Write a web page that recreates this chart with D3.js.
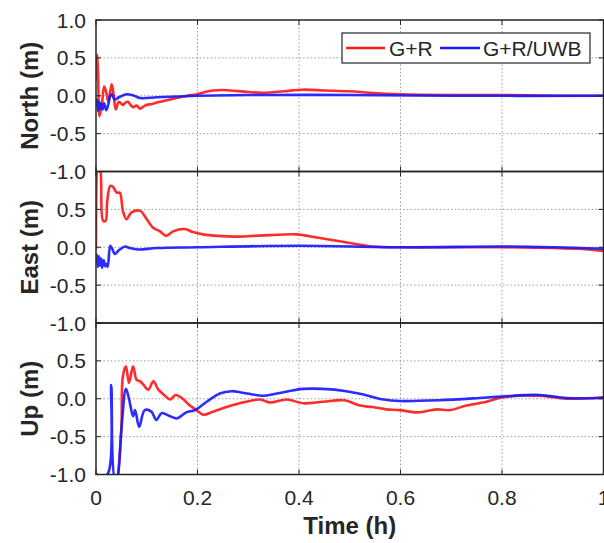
<!DOCTYPE html>
<html><head><meta charset="utf-8">
<script src="https://cdn.jsdelivr.net/npm/d3@7"></script>
<style>body{margin:0;background:#fff}svg{display:block}</style>
</head><body>
<script>
// ---- data (time in hours, error in metres) ----
const seriesNames = ["G+R", "G+R/UWB"];
const xTicks = [0, 0.2, 0.4, 0.6, 0.8, 1];
const xTickLabels = ["0", "0.2", "0.4", "0.6", "0.8", "1"];
const yTicks = [1, 0.5, 0, -0.5, -1];
const yTickLabels = ["1.0", "0.5", "0.0", "-0.5", "-1.0"];
const panelLabels = ["North (m)", "East (m)", "Up (m)"];

const northGR = [[0,0.2],[0.002,0.54],[0.004,0.3],[0.007,-0.27],[0.012,-0.09],[0.016,0.12],[0.02,0.05],[0.024,-0.07],[0.028,0.05],[0.031,0.15],[0.035,0.0],[0.039,-0.18],[0.045,-0.08],[0.053,-0.12],[0.058,-0.09],[0.063,-0.08],[0.068,-0.12],[0.073,-0.15],[0.08,-0.13],[0.087,-0.17],[0.094,-0.14],[0.1,-0.12],[0.11,-0.11],[0.12,-0.09],[0.133,-0.07],[0.146,-0.05],[0.165,-0.02],[0.18,0.0],[0.199,0.02],[0.215,0.05],[0.23,0.07],[0.25,0.075],[0.264,0.07],[0.3,0.05],[0.329,0.04],[0.37,0.06],[0.407,0.08],[0.45,0.07],[0.5,0.06],[0.539,0.04],[0.598,0.02],[0.7,0.01],[0.8,0.01],[0.9,0.0],[1.0,0.0]];
const northGRUWB = [[0,-0.14],[0.002,-0.05],[0.004,-0.2],[0.006,-0.08],[0.008,-0.17],[0.01,-0.1],[0.013,-0.18],[0.016,-0.1],[0.02,-0.19],[0.024,-0.12],[0.028,0.0],[0.031,0.02],[0.037,-0.05],[0.045,-0.02],[0.06,0.02],[0.075,0.0],[0.087,-0.03],[0.12,-0.02],[0.16,-0.01],[0.2,0.0],[0.3,0.01],[0.5,0.01],[0.7,0.0],[1.0,0.0]];
const eastGR = [[0,-0.03],[0.004,1.1],[0.009,1.0],[0.014,0.35],[0.019,0.35],[0.022,0.6],[0.028,0.81],[0.033,0.8],[0.037,0.76],[0.041,0.72],[0.047,0.72],[0.053,0.48],[0.06,0.37],[0.07,0.46],[0.087,0.48],[0.1,0.37],[0.112,0.26],[0.126,0.21],[0.138,0.15],[0.152,0.21],[0.175,0.24],[0.191,0.2],[0.211,0.17],[0.24,0.15],[0.277,0.14],[0.31,0.15],[0.343,0.16],[0.395,0.17],[0.434,0.13],[0.48,0.08],[0.545,0.01],[0.6,0.0],[0.7,0.0],[0.8,0.0],[0.9,-0.01],[0.95,-0.02],[1.0,-0.05]];
const eastGRUWB = [[0,-0.2],[0.002,-0.1],[0.004,-0.26],[0.006,-0.12],[0.008,-0.24],[0.01,-0.15],[0.012,-0.27],[0.015,-0.17],[0.018,-0.25],[0.02,-0.22],[0.023,-0.26],[0.028,0.02],[0.032,-0.02],[0.037,-0.09],[0.045,-0.04],[0.057,0.01],[0.066,-0.01],[0.083,-0.03],[0.12,-0.01],[0.2,0.0],[0.4,0.02],[0.6,0.0],[0.8,0.01],[0.9,0.0],[1.0,-0.02]];
const upGR = [[0,-1.5],[0.04,-1.5],[0.044,-1.0],[0.05,-0.41],[0.053,0.3],[0.059,0.43],[0.065,0.21],[0.073,0.43],[0.08,0.25],[0.087,0.23],[0.093,0.19],[0.103,0.12],[0.113,0.23],[0.123,0.12],[0.136,0.04],[0.146,-0.01],[0.157,0.05],[0.169,0.01],[0.185,-0.09],[0.198,-0.15],[0.211,-0.21],[0.231,-0.17],[0.257,-0.11],[0.283,-0.06],[0.323,-0.01],[0.343,-0.05],[0.376,-0.01],[0.408,-0.06],[0.447,-0.04],[0.49,-0.02],[0.52,-0.09],[0.545,-0.11],[0.572,-0.14],[0.598,-0.15],[0.634,-0.18],[0.671,-0.14],[0.697,-0.15],[0.73,-0.09],[0.769,-0.04],[0.802,0.02],[0.874,0.04],[0.927,0.0],[1.0,0.02]];
const upGRUWB = [[0,-1.0],[0.022,-1.0],[0.03,0.18],[0.037,-1.05],[0.041,-1.05],[0.05,-0.4],[0.059,0.13],[0.065,0.0],[0.073,-0.23],[0.077,-0.15],[0.085,-0.37],[0.096,-0.15],[0.109,-0.17],[0.119,-0.28],[0.129,-0.19],[0.146,-0.23],[0.159,-0.26],[0.178,-0.18],[0.195,-0.15],[0.218,-0.04],[0.244,0.07],[0.267,0.1],[0.289,0.08],[0.329,0.04],[0.356,0.07],[0.408,0.13],[0.447,0.13],[0.493,0.1],[0.53,0.05],[0.567,-0.01],[0.598,-0.03],[0.677,-0.02],[0.756,0.01],[0.8,0.03],[0.874,0.05],[0.927,0.01],[1.0,0.01]];

const panels = [
  {label: panelLabels[0], series: [northGR, northGRUWB]},
  {label: panelLabels[1], series: [eastGR, eastGRUWB]},
  {label: panelLabels[2], series: [upGR, upGRUWB]}
];
const colors = ["#ff1a1a", "#1a1aff"];

// ---- layout ----
const W = 604, H = 543;
const left = 96, right = 603.5;
const tops = [20, 171.5, 323];
const ph = 151.5;
const axisColor = "#262626";
const font = "'Liberation Sans', Arial, Helvetica, sans-serif";

const svg = d3.select("body").append("svg").attr("width", W).attr("height", H);
const x = d3.scaleLinear().domain([0, 1]).range([left, right]);

panels.forEach((p, i) => {
  const top = tops[i];
  const y = d3.scaleLinear().domain([-1, 1]).range([top + ph, top]);
  const g = svg.append("g");

  // grid
  g.selectAll(".gx").data(xTicks.slice(1, -1)).join("line")
    .attr("x1", d => x(d)).attr("x2", d => x(d)).attr("y1", top).attr("y2", top + ph)
    .attr("stroke", "#9a9a9a").attr("stroke-width", 1).attr("stroke-dasharray", "1.5,2.2");
  g.selectAll(".gy").data(yTicks.slice(1, -1)).join("line")
    .attr("x1", left).attr("x2", right).attr("y1", d => y(d)).attr("y2", d => y(d))
    .attr("stroke", "#9a9a9a").attr("stroke-width", 1).attr("stroke-dasharray", "1.5,2.2");

  // clip
  const cid = "clip" + i;
  svg.append("clipPath").attr("id", cid).append("rect")
    .attr("x", left).attr("y", top).attr("width", right - left).attr("height", ph);

  const line = d3.line().x(d => x(d[0])).y(d => y(d[1])).curve(d3.curveCatmullRom.alpha(0.5));
  p.series.forEach((s, k) => {
    g.append("path").datum(s).attr("d", line).attr("clip-path", `url(#${cid})`)
      .attr("fill", "none").attr("stroke", colors[k]).attr("stroke-width", 2.6)
      .attr("stroke-linejoin", "round").attr("stroke-opacity", 0.92);
  });

  // inward ticks
  const tl = 5;
  xTicks.forEach(t => {
    g.append("line").attr("x1", x(t)).attr("x2", x(t)).attr("y1", top + ph).attr("y2", top + ph - tl).attr("stroke", axisColor);
    g.append("line").attr("x1", x(t)).attr("x2", x(t)).attr("y1", top).attr("y2", top + tl).attr("stroke", axisColor);
  });
  yTicks.forEach(t => {
    g.append("line").attr("x1", left).attr("x2", left + tl).attr("y1", y(t)).attr("y2", y(t)).attr("stroke", axisColor);
    g.append("line").attr("x1", right).attr("x2", right - tl).attr("y1", y(t)).attr("y2", y(t)).attr("stroke", axisColor);
  });

  // box
  g.append("rect").attr("x", left).attr("y", top).attr("width", right - left).attr("height", ph)
    .attr("fill", "none").attr("stroke", axisColor).attr("stroke-width", 1.5);

  // y tick labels
  const labs = yTicks.map((t, j) => ({t, s: yTickLabels[j]})).filter(d => i === 0 || d.t < 1);
  g.selectAll(".yl").data(labs).join("text")
    .attr("x", 86).attr("y", d => y(d.t)).attr("dy", "0.36em")
    .attr("text-anchor", "end").attr("font-family", font).attr("font-size", 21)
    .attr("fill", axisColor).text(d => d.s);

  // y label
  g.append("text").attr("transform", `translate(38,${top + ph / 2}) rotate(-90)`)
    .attr("text-anchor", "middle").attr("font-family", font).attr("font-size", 24)
    .attr("font-weight", "bold").attr("fill", axisColor).text(p.label);
});

// x tick labels
svg.selectAll(".xl").data(xTicks).join("text")
  .attr("x", d => x(d)).attr("y", 505).attr("text-anchor", "middle")
  .attr("font-family", font).attr("font-size", 21).attr("fill", axisColor)
  .text((d, j) => xTickLabels[j]);

svg.append("text").attr("x", (left + right) / 2).attr("y", 534).attr("text-anchor", "middle")
  .attr("font-family", font).attr("font-size", 24).attr("font-weight", "bold")
  .attr("fill", axisColor).text("Time (h)");

// legend
const lg = svg.append("g");
lg.append("rect").attr("x", 342).attr("y", 33).attr("width", 248).attr("height", 30)
  .attr("fill", "#fff").attr("stroke", axisColor).attr("stroke-width", 1.2);
const legendItems = [
  {x0: 346, x1: 385, tx: 389},
  {x0: 440, x1: 480, tx: 483}
];
legendItems.forEach((it, k) => {
  lg.append("line").attr("x1", it.x0).attr("x2", it.x1).attr("y1", 48).attr("y2", 48)
    .attr("stroke", colors[k]).attr("stroke-width", 2.6);
  lg.append("text").attr("x", it.tx).attr("y", 48).attr("dy", "0.36em")
    .attr("font-family", font).attr("font-size", 21).attr("fill", axisColor).text(seriesNames[k]);
});
</script>
</body></html>
